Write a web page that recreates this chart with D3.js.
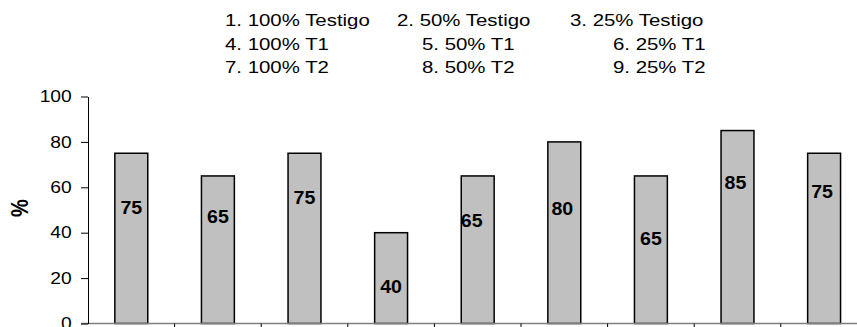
<!DOCTYPE html>
<html>
<head>
<meta charset="utf-8">
<script src="https://cdn.jsdelivr.net/npm/d3@7"></script>
<style>
  html, body { margin: 0; padding: 0; background: #fff; overflow: hidden; }
  svg { display: block; }
  text { font-family: "Liberation Sans", Arial, sans-serif; fill: #000; }
</style>
</head>
<body>
<svg id="chart" width="857" height="327"></svg>
<script>
// Treatments 1-9 and the percentage for each
const categories = ["1", "2", "3", "4", "5", "6", "7", "8", "9"];
const values = [75, 65, 75, 40, 65, 80, 65, 85, 75];
// Height (in % units) at which each value label sits inside its bar
const labelAt = [51, 47, 55.3, 16.2, 45.3, 50.4, 37.5, 62, 58.1];
const labelNudge = [0, 0, 0, 0, -6, -2, 0, -2, -2];
const yTicks = [0, 20, 40, 60, 80, 100];
const yTitle = "%";
// Key to the treatment numbers, three rows of three
const legendRows = [
  ["1. 100% Testigo", "2. 50% Testigo", "3. 25% Testigo"],
  ["4. 100% T1", "5. 50% T1", "6. 25% T1"],
  ["7. 100% T2", "8. 50% T2", "9. 25% T2"]
];

const svg = d3.select("#chart");
const stretch = 1.18; // text is drawn slightly wide

const y = d3.scaleLinear().domain([0, 100]).range([323.5, 96.5]);
const x = d3.scaleBand().domain(categories).range([88, 867.4])
  .paddingInner(0.62).paddingOuter(0.31);

// Key above the plot
const legendX = [[225, 397, 570], [225, 422, 613], [225, 422, 613]];
const legendY = [26, 49.5, 73];
legendRows.forEach((row, r) => {
  row.forEach((t, c) => {
    svg.append("text")
      .attr("transform", `translate(${legendX[r][c]},${legendY[r]}) scale(${stretch},1)`)
      .style("font-size", "17.3px")
      .text(t);
  });
});

// Bars
svg.append("g").selectAll("rect").data(values).join("rect")
  .attr("x", (d, i) => x(categories[i]))
  .attr("y", d => y(d))
  .attr("width", x.bandwidth())
  .attr("height", d => y(0) - y(d))
  .attr("fill", "#c0c0c0")
  .attr("stroke", "#000")
  .attr("stroke-width", 1.5);

// Value labels
svg.append("g").selectAll("text").data(values).join("text")
  .attr("transform", (d, i) =>
    `translate(${x(categories[i]) + x.bandwidth() / 2 + labelNudge[i]},${y(labelAt[i])}) scale(1.12,1)`)
  .attr("text-anchor", "middle")
  .attr("dy", "0.36em")
  .style("font-size", "17.5px")
  .style("font-weight", "bold")
  .text(d => d);

// Category axis: grey baseline with marks between categories
const base = y(0);
svg.append("line")
  .attr("x1", 81).attr("x2", x.range()[1])
  .attr("y1", base).attr("y2", base)
  .attr("stroke", "#808080").attr("stroke-width", 1.5);
svg.append("g").selectAll("line").data(d3.range(1, categories.length + 1)).join("line")
  .attr("x1", i => x.range()[0] + i * x.step())
  .attr("x2", i => x.range()[0] + i * x.step())
  .attr("y1", base).attr("y2", base + 7)
  .attr("stroke", "#000").attr("stroke-width", 1);

// Value axis
const yAxis = svg.append("g")
  .attr("transform", "translate(88,0)")
  .call(d3.axisLeft(y).tickValues(yTicks).tickSize(7).tickSizeOuter(0));
yAxis.select(".domain").attr("stroke", "#000").attr("stroke-width", 1);
yAxis.selectAll(".tick line").attr("stroke", "#000");
yAxis.selectAll(".tick text")
  .attr("x", -16.3 / stretch)
  .attr("transform", `scale(${stretch},1)`)
  .style("font-size", "16.3px")
  .style("font-family", "'Liberation Sans', Arial, sans-serif")
  .attr("fill", "#000");

// Axis title
svg.append("text")
  .attr("transform", `translate(20,208) scale(${stretch},1) rotate(-90)`)
  .attr("text-anchor", "middle")
  .attr("dy", "0.36em")
  .style("font-size", "20px")
  .style("font-weight", "bold")
  .text(yTitle);
</script>
</body>
</html>
